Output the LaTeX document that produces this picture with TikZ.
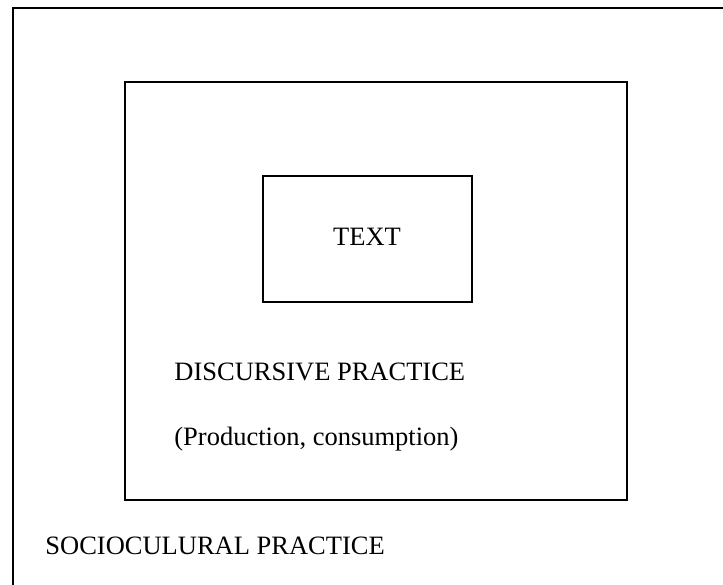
\documentclass[tikz,border=0pt]{standalone}
\usepackage{fontspec}
\setmainfont{Liberation Serif}
\begin{document}
\begin{tikzpicture}[x=0.5pt,y=-0.5pt,
  box/.style={draw=black,line width=1.1pt},
  lbl/.style={inner sep=0pt,font=\fontsize{13.25}{16}\selectfont}]
\useasboundingbox (0,0) rectangle (723,584);
\clip (0,0) rectangle (723,584);
\fill[white] (0,0) rectangle (723,584);
% outer box (right and bottom edges lie beyond the picture)
\draw[box] (13,600) -- (13,8) -- (740,8);
% middle box
\draw[box] (125,82) rectangle (627,500);
% inner box
\draw[box] (263,176) rectangle (472,302);
\node[lbl,anchor=base] (text) at (367,245) {TEXT};
\node[lbl,anchor=base west] (disc) at (174,380.5) {DISCURSIVE PRACTICE};
\node[lbl,anchor=base west] (prod) at (174,445) {(Production, consumption)};
\node[lbl,anchor=base west] (socio) at (45,554) {SOCIOCULURAL PRACTICE};
\end{tikzpicture}
\end{document}
